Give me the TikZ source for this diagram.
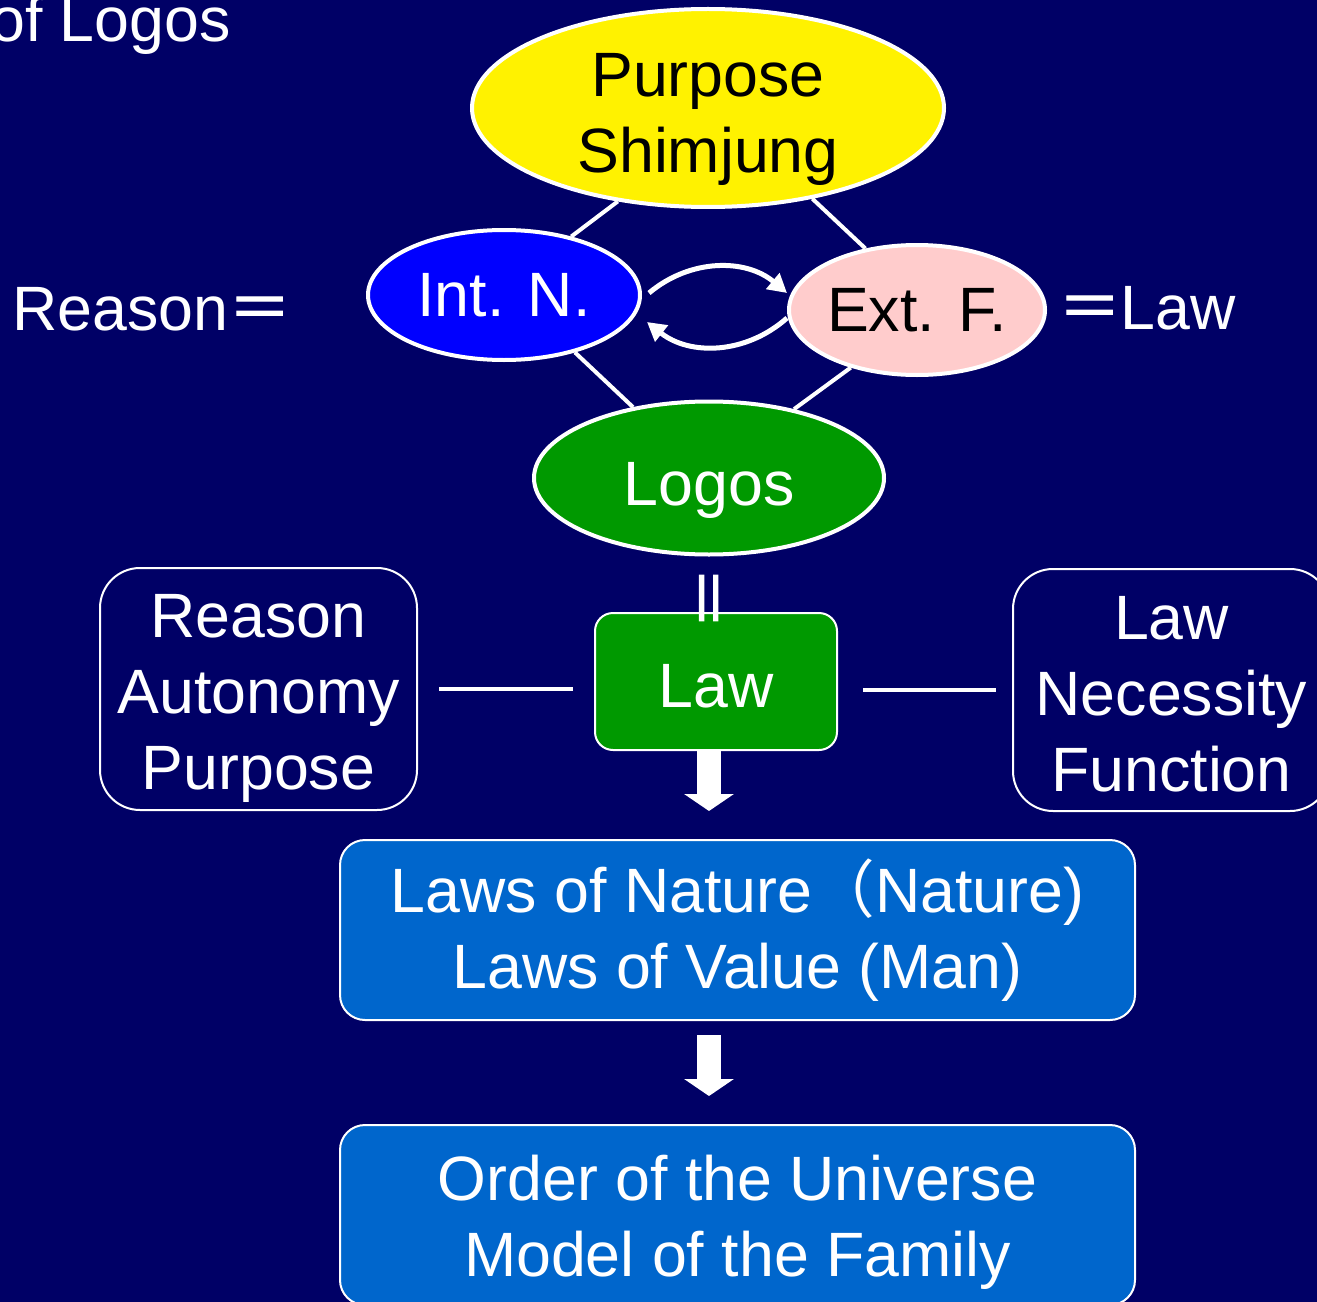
\documentclass[tikz,border=0pt]{standalone}
\usepackage{fontspec}
\setmainfont{Liberation Sans}
\newfontfamily\cjk{Noto Sans CJK SC}
\newfontfamily\eqfont[FakeBold=1.6]{Noto Sans CJK SC}
\usepackage{xcolor}
\usepackage{tikz}
\usetikzlibrary{shapes, arrows.meta, positioning, calc, shapes.geometric}

\definecolor{navybg}{HTML}{000066}
\definecolor{lawgreen}{HTML}{009900}
\definecolor{intblue}{HTML}{0000FF}
\definecolor{extpink}{HTML}{FFCCCC}
\definecolor{boxblue}{HTML}{0066CC}

\begin{document}
\begin{tikzpicture}[
    x=0.75pt, y=0.75pt,
    every node/.style={font=\fontsize{47}{57}\selectfont, inner sep=0pt},
    oval/.style={ellipse, draw=white, line width=3pt, align=center},
    block/.style={rectangle, draw=white, line width=1.5pt, align=center, text=white},
    link/.style={draw=white, line width=3pt},
    cycarrow/.style={-{Triangle[length=14pt,width=15pt]}, white, line width=3.75pt},
    downarrow/.style={-{Triangle[length=12.75pt,width=36.75pt]}, white, line width=18pt}
]
\useasboundingbox (0,0) rectangle (1317,-1302);
\clip (0,0) rectangle (1317,-1302);
\fill[navybg] (0,0) rectangle (1317,-1302);

\node[text=white, anchor=base west] (title) at (-10,-42) {of Logos};

% Diamond of ellipses
\node[oval, fill=yellow, inner ysep=-8pt, minimum width=354pt, minimum height=148.5pt] (purpose) at (708,-108) {\rule{0pt}{49.3pt}Purpose\\Shimjung};
\node[oval, fill=intblue, text=white, minimum width=204pt, minimum height=97.5pt] (intn) at (504,-295) {Int. N.};
\node[oval, fill=extpink, minimum width=192pt, minimum height=97.5pt] (extf) at (917,-310) {Ext. F.};
\node[oval, fill=lawgreen, text=white, text height=50.8pt, text depth=10pt, minimum width=262.5pt, minimum height=114.75pt] (logos) at (709,-478) {Logos};

\node[text=white, anchor=base west] (reasoneq) at (12,-330) {Reason{\eqfont ＝}};
\node[text=white, anchor=base west] (laweq) at (1058,-329) {{\eqfont ＝}Law};

\draw[link] (purpose.226) -- (intn.41);
\draw[link] (purpose.319) -- (extf.130);
\draw[link] (intn.321) -- (logos.137);
\draw[link] (extf.221) -- (logos.39);

\draw[cycarrow] ($(intn.east)+(7,2)$) to[bend left=40] ($(extf.west)+(0,17)$);
\draw[cycarrow] ($(extf.west)+(0,-8)$) to[bend left=40] ($(intn.east)+(5,-27)$);

% Law row
\node[block, fill=lawgreen, rounded corners=13.5pt, text height=39.5pt, text depth=0pt, minimum width=181.5pt, minimum height=102.75pt] (lawbox) at (716,-681.5) {Law};
\node[rotate=90, text=white] (eqv) at (716,-598) {\eqfont ＝};
\node[block, rounded corners=30pt, minimum width=237.75pt, minimum height=181.5pt] (leftbox) at (258.5,-689) {\rule{0pt}{46.3pt}Reason\\Autonomy\\Purpose};
\node[block, rounded corners=30pt, minimum width=237.75pt, minimum height=181.5pt] (rightbox) at (1171.5,-690) {\rule{0pt}{38.8pt}Law\\Necessity\\Function};

\draw[link, shorten <=15.75pt, shorten >=15.75pt] (leftbox.east) -- (leftbox.east -| lawbox.west);
\draw[link, shorten <=18.75pt, shorten >=12pt] (lawbox.east |- rightbox.west) -- (rightbox.west);

% Results
\node[block, fill=boxblue, rounded corners=18.75pt, minimum width=596.25pt, minimum height=135pt] (naturebox) at (737.5,-930) {\rule{0pt}{40.3pt}Laws of Nature{\cjk （}Nature)\\Laws of Value (Man)};
\node[block, fill=boxblue, rounded corners=18.75pt, minimum width=596.25pt, minimum height=135pt] (orderbox) at (737.5,-1215) {\rule{0pt}{44.8pt}Order of the Universe\\Model of the Family};

\draw[downarrow, shorten >=21pt] (logos.south |- lawbox.south) -- (logos.south |- naturebox.north);
\draw[downarrow, shorten <=10.5pt, shorten >=21pt] (logos.south |- naturebox.south) -- (logos.south |- orderbox.north);

\end{tikzpicture}
\end{document}
